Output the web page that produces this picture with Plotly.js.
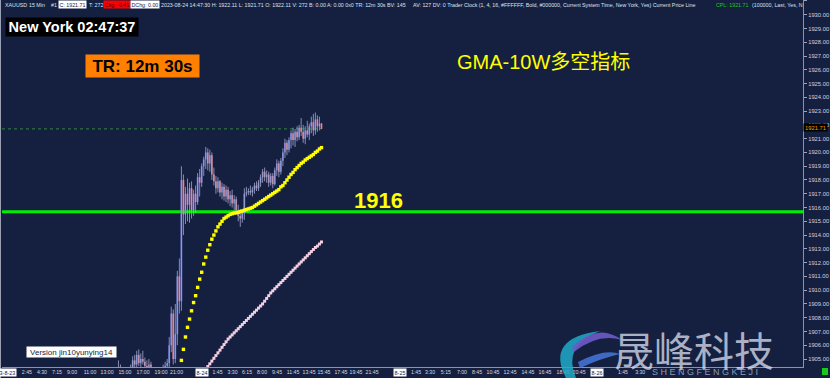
<!DOCTYPE html>
<html><head><meta charset="utf-8">
<script src="https://cdn.plot.ly/plotly-3.0.1.min.js"></script>
<style>html,body{margin:0;padding:0;background:#152041;overflow:hidden}#chart{width:830px;height:378px}</style>
</head><body><div id="chart"></div>
<script>
// ---- data ----
const slotStart = -42;
const opens = [
1903.2,1903.5,1904.2,1903.9,1903.7,1903.5,1903.9,1904.0,1904.3,1904.9,
1904.6,1905.3,1904.7,1905.0,1904.8,1904.5,1904.2,1904.6,1904.0,1903.8,
1903.9,1903.7,1903.6,1904.1,1904.3,1904.5,1904.7,1906.0,1908.3,1905.0,
1906.8,1911.0,1909.2,1918.0,1915.5,1917.0,1916.2,1917.4,1915.8,1917.0,
1916.4,1918.2,1917.8,1919.0,1919.5,1920.0,1919.2,1919.8,1918.4,1917.9,
1917.4,1917.9,1917.1,1917.5,1916.8,1917.3,1916.6,1916.9,1916.3,1916.6,
1915.8,1915.4,1915.2,1915.6,1917.0,1917.1,1917.2,1917.1,1917.3,1917.6,
1917.4,1917.8,1918.2,1918.6,1918.2,1918.4,1917.8,1918.3,1917.7,1918.7,
1919.2,1918.6,1919.4,1920.0,1920.7,1920.2,1920.9,1921.4,1920.9,1921.5,
1921.1,1921.8,1921.5,1921.0,1921.6,1921.3,1921.9,1922.2,1921.6,1922.4,
1921.9,1922.11];
const highs = [
1903.8,1904.9,1904.6,1904.2,1904.0,1904.1,1904.3,1904.6,1905.2,1905.3,
1905.6,1905.7,1905.4,1905.6,1905.1,1904.9,1905.0,1904.8,1904.3,1904.1,
1904.2,1904.0,1904.3,1904.6,1904.8,1905.0,1906.6,1908.8,1908.6,1909.0,
1911.4,1912.3,1919.0,1918.4,1917.5,1918.1,1917.8,1917.9,1917.3,1917.6,
1918.5,1918.8,1919.2,1919.7,1920.4,1920.3,1920.2,1920.0,1918.9,1918.3,
1918.2,1918.0,1917.8,1917.7,1917.6,1917.5,1917.2,1917.3,1916.9,1916.8,
1916.2,1915.9,1915.8,1917.4,1917.5,1917.4,1917.6,1917.5,1917.8,1917.9,
1918.0,1918.4,1918.8,1918.9,1918.7,1918.6,1918.5,1918.5,1918.9,1919.5,
1919.4,1919.6,1920.3,1921.0,1920.9,1921.1,1921.6,1921.8,1921.7,1921.9,
1922.0,1922.5,1922.0,1921.9,1922.3,1922.1,1922.6,1922.8,1922.9,1922.7,
1922.6,1922.11];
const lows = [
1902.9,1903.3,1903.6,1903.4,1903.2,1903.3,1903.5,1903.7,1904.0,1904.4,
1904.3,1904.5,1904.2,1904.6,1904.2,1903.9,1904.0,1903.8,1903.5,1903.4,
1903.5,1903.3,1903.4,1903.8,1904.0,1904.1,1904.2,1905.5,1904.6,1904.7,
1906.0,1908.3,1908.5,1914.0,1914.8,1915.0,1914.9,1915.2,1915.4,1915.6,
1916.2,1916.8,1917.5,1918.3,1918.8,1918.7,1918.6,1918.0,1917.6,1917.0,
1917.1,1916.8,1916.6,1916.5,1916.4,1916.3,1916.1,1916.0,1915.8,1915.5,
1915.0,1914.6,1914.9,1915.1,1916.8,1916.9,1916.9,1916.8,1917.0,1917.2,
1917.2,1917.5,1917.8,1917.9,1917.8,1917.5,1917.6,1917.4,1917.6,1918.3,
1918.2,1918.4,1919.0,1919.6,1919.8,1920.0,1920.3,1920.5,1920.4,1920.8,
1920.9,1921.2,1920.7,1920.6,1921.1,1920.9,1921.4,1921.2,1921.3,1921.5,
1921.6,1921.71];
const closes = [
1903.5,1904.2,1903.9,1903.7,1903.5,1903.9,1904.0,1904.3,1904.9,1904.6,
1905.3,1904.7,1905.0,1904.8,1904.5,1904.2,1904.6,1904.0,1903.8,1903.9,
1903.7,1903.6,1904.1,1904.3,1904.5,1904.7,1906.0,1908.3,1905.0,1906.8,
1911.0,1909.2,1918.0,1915.5,1917.0,1916.2,1917.4,1915.8,1917.0,1916.4,
1918.2,1917.8,1919.0,1919.5,1920.0,1919.2,1919.8,1918.4,1917.9,1917.4,
1917.9,1917.1,1917.5,1916.8,1917.3,1916.6,1916.9,1916.3,1916.6,1915.8,
1915.4,1915.2,1915.6,1917.0,1917.1,1917.2,1917.1,1917.3,1917.6,1917.4,
1917.8,1918.2,1918.6,1918.2,1918.4,1917.8,1918.3,1917.7,1918.7,1919.2,
1918.6,1919.4,1920.0,1920.7,1920.2,1920.9,1921.4,1920.9,1921.5,1921.1,
1921.8,1921.5,1921.0,1921.6,1921.3,1921.9,1922.2,1921.6,1922.4,1921.9,
1922.11,1921.71];

const gmaStart = -10;
const gmaYellow = [
1904.9,1905.7,1906.6,1907.3,1907.9,1908.5,1909.1,1909.6,1910.2,1910.8,
1911.3,1911.9,1912.4,1912.9,1913.3,1913.7,1914.0,1914.3,1914.6,1914.8,
1915.0,1915.2,1915.3,1915.4,1915.5,1915.55,1915.6,1915.62,1915.65,1915.7,
1915.75,1915.8,1915.85,1915.9,1915.95,1916.0,1916.1,1916.2,1916.3,1916.4,
1916.5,1916.6,1916.7,1916.8,1916.9,1917.0,1917.1,1917.2,1917.3,1917.5,
1917.6,1917.8,1918.0,1918.2,1918.4,1918.55,1918.75,1918.9,1919.05,1919.2,
1919.3,1919.45,1919.55,1919.65,1919.75,1919.85,1920.0,1920.1,1920.25,1920.35];

const maStart = 3;
const maPink = [
1904.45,1904.65,1904.85,1905.05,1905.25,1905.45,1905.65,1905.85,1906.05,1906.25,
1906.45,1906.6,1906.75,1906.9,1907.05,1907.2,1907.35,1907.5,1907.65,1907.8,
1907.95,1908.1,1908.25,1908.4,1908.55,1908.7,1908.85,1909.0,1909.2,1909.4,
1909.6,1909.8,1909.95,1910.1,1910.25,1910.4,1910.55,1910.7,1910.85,1911.0,
1911.15,1911.3,1911.45,1911.6,1911.75,1911.9,1912.05,1912.2,1912.35,1912.5,
1912.65,1912.8,1912.95,1913.1,1913.2,1913.35,1913.5];

const levelValue = 1915.7;
const levelLabel = '1916';

const tickLabels = ['2:45','4:30','7:15','9:00','11:00','13:00','15:00','17:00','19:00','21:00',
 '1:45','3:30','6:15','8:00','9:45','11:45','13:45','15:45','17:45','19:45','21:45',
 '1:45','3:30','5:15','7:00','8:45','10:45','12:45','14:45','16:45','18:45','20:45',
 '1:45','3:30'];
const tickSlots = [-86.1,-78.7,-71.3,-63.9,-55.0,-46.6,-37.8,-28.9,-20.0,-12.4,
 7.8,15.2,22.3,29.7,37.1,45.0,52.9,60.2,68.6,76.0,83.9,
 105.6,112.5,120.3,128.2,135.6,143.5,151.9,160.7,169.1,178.0,185.9,
 207.5,216.0];
const dateLabels = ['3-8-23','8-24','8-25','8-26'];
const dateSlots = [-95.5, 0, 97.7, 194.5];

// ---- build ----
const SANS = '"Liberation Sans",Arial,sans-serif';
const slots = closes.map((_, i) => slotStart + i);
const wx = [], wy = [];
slots.forEach((s, i) => { wx.push(s, s, null); wy.push(lows[i], highs[i], null); });
const bodyBase = closes.map((c, i) => Math.min(c, opens[i]));
const bodyH = closes.map((c, i) => Math.max(Math.abs(c - opens[i]), 0.06));
const bodyCol = closes.map((c, i) => c >= opens[i] ? '#6f7bdc' : '#e27880');
const gx = gmaYellow.map((_, i) => gmaStart + i);
const pxs = maPink.map((_, i) => maStart + i);

const xMin = -98.37, xMax = 296.2;
const lastSlot = slots[slots.length - 1];
const lastClose = closes[closes.length - 1];

const traces = [
 {type:'scatter', mode:'lines', x:wx, y:wy, line:{color:'rgba(160,168,205,0.8)', width:1}, hoverinfo:'skip', showlegend:false},
 {type:'bar', x:slots, y:bodyH, base:bodyBase, width:0.85, marker:{color:bodyCol, line:{width:0}}, hoverinfo:'skip', showlegend:false},
 {type:'scatter', mode:'lines+markers', x:pxs, y:maPink, line:{color:'#f3c9da', width:1}, marker:{symbol:'square', size:3, color:'#f6d0e0'}, hoverinfo:'skip', showlegend:false},
 {type:'scatter', mode:'markers', x:gx, y:gmaYellow, marker:{symbol:'square', size:3.4, color:'#ffff00'}, hoverinfo:'skip', showlegend:false}
];

const PX = p => (p - 2) / 801, PY = p => (367 - p) / 367;
const TB = 5.3;
function A(text, x, y, o) {
  return Object.assign({xref:'paper', yref:'paper', x:PX(x), y:PY(y), xanchor:'left', yanchor:'middle',
    text:text, showarrow:false, font:{family:SANS, size:TB, color:'#dde2ee'}}, o || {});
}
const annotations = [
 A('XAUUSD', 3, 5), A('15 Min', 27, 5), A('#1', 49, 5),
 A('C: 1921.71', 58, 5, {bgcolor:'#ffffff', borderpad:0.5, font:{family:SANS, size:TB, color:'#13204a'}}),
 A('T: 272', 87, 5),
 A('Chg: -0.41', 103, 5, {bgcolor:'#ff0000', borderpad:0.5, font:{family:SANS, size:TB, color:'#3a0000'}}),
 A('DChg: 0.00', 130, 5, {bgcolor:'#ffffff', borderpad:0.5, font:{family:SANS, size:TB, color:'#13204a'}}),
 A('2023-08-24 14:47:30 H: 1922.11 L: 1921.71 O: 1922.11 V: 272 B: 0.00 A: 0.00 0x0 TR: 12m 30s BV: 145', 159, 5),
 A('AV: 127 DV: 0 Trader Clock (1, 4, 16, #FFFFFF, Bold, #000000, Current System Time, New York, Yes) Current Price Line', 411, 5),
 A('CPL: 1921.71', 714, 5, {font:{family:SANS, size:TB, color:'#19c819'}}),
 A('(100000, Last, Yes, N', 750, 5),
 A('<b>New York 02:47:37</b>', 72, 27, {xanchor:'center', bgcolor:'#000000', width:132, height:18, borderpad:0,
   font:{family:SANS, size:14.5, color:'#ffffff'}}),
 A('<b>TR: 12m 30s</b>', 142.5, 66, {xanchor:'center', bgcolor:'#ff8000', width:113, height:22, borderpad:0,
   font:{family:SANS, size:17, color:'#000000'}}),
 A('GMA-10W多空指标', 543, 62, {xanchor:'center', font:{family:'"Liberation Sans", "Noto Sans CJK SC", sans-serif', size:20, color:'#ffff00'}}),
 A('<b>' + levelLabel + '</b>', 378, 200, {xanchor:'center', font:{family:SANS, size:22, color:'#ffff00'}}),
 A('Version jin10yunying14', 71.5, 352, {xanchor:'center', bgcolor:'#ffffff', width:89, height:10, borderpad:0,
   font:{family:SANS, size:8, color:'#1a2440'}}),
 A(lastClose.toFixed(2), 815.5, 127.5, {xanchor:'center', bgcolor:'#000000', width:23, height:7, borderpad:0,
   font:{family:SANS, size:5.8, color:'#ff9c00'}}),
 A('晟峰科技', 694, 349, {xanchor:'center', font:{family:'"Noto Sans CJK SC", sans-serif', size:40, color:'rgba(214,218,234,0.78)'}}),
 A('S H E N G F E N G K E J I', 705, 372, {xanchor:'center', font:{family:SANS, size:9, color:'rgba(190,196,218,0.75)'}})
];
dateLabels.forEach((t, i) => annotations.push({xref:'x', yref:'paper', x:dateSlots[i], y:PY(372.5), xanchor:'center', yanchor:'middle',
  text:t, showarrow:false, bgcolor:'#ffffff', borderpad:0.6, font:{family:SANS, size:5.4, color:'#13204a'}}));

const shapes = [
 {type:'line', xref:'paper', yref:'y', x0:0, x1:1, y0:levelValue, y1:levelValue, line:{color:'#00ee00', width:3}, layer:'below'},
 {type:'line', xref:'x', yref:'y', x0:xMin, x1:lastSlot, y0:lastClose, y1:lastClose, line:{color:'#2f8a36', width:1, dash:'dot'}, layer:'below'},
 {type:'line', xref:'paper', yref:'paper', x0:PX(0.5), x1:PX(0.5), y0:PY(0), y1:PY(378), line:{color:'#9aa0b4', width:1}},
 {type:'rect', xref:'paper', yref:'paper', x0:PX(822), x1:PX(828), y0:PY(375), y1:PY(368), fillcolor:'#19c819', line:{width:0}},
 {type:'path', xref:'paper', yref:'paper', fillcolor:'rgba(30,170,200,0.85)', line:{width:0},
  path:`M ${PX(600)} ${PY(331)} Q ${PX(545)} ${PY(338)} ${PX(566)} ${PY(378)} L ${PX(576)} ${PY(378)} Q ${PX(562)} ${PY(345)} ${PX(600)} ${PY(331)} Z`},
 {type:'path', xref:'paper', yref:'paper', fillcolor:'rgba(110,90,200,0.9)', line:{width:0},
  path:`M ${PX(572)} ${PY(347)} Q ${PX(598)} ${PY(322)} ${PX(622)} ${PY(340)} Q ${PX(598)} ${PY(333)} ${PX(574)} ${PY(352)} Z`},
 {type:'path', xref:'paper', yref:'paper', fillcolor:'rgba(70,120,220,0.85)', line:{width:0},
  path:`M ${PX(578)} ${PY(362)} Q ${PX(605)} ${PY(348)} ${PX(620)} ${PY(354)} Q ${PX(602)} ${PY(358)} ${PX(580)} ${PY(368)} Z`}
];

const layout = {
 width:830, height:378, margin:{l:2, r:27, t:0, b:11},
 paper_bgcolor:'#152041', plot_bgcolor:'#152041',
 showlegend:false, barmode:'overlay', hovermode:false,
 xaxis:{range:[xMin, xMax], showgrid:false, zeroline:false, showline:true, linecolor:'#8a92ad', linewidth:1,
   tickmode:'array', tickvals:tickSlots, ticktext:tickLabels, ticks:'', tickangle:0, automargin:false,
   tickfont:{family:SANS, size:5.2, color:'#d6dae6'}, fixedrange:true},
 yaxis:{range:[1904.42, 1931.07], side:'right', showgrid:false, zeroline:false, showline:true, linecolor:'#8a92ad', linewidth:1,
   tick0:1900, dtick:1, tickformat:'.2f', ticks:'outside', ticklen:3, tickcolor:'#9aa2bc', automargin:false,
   tickfont:{family:SANS, size:5.8, color:'#cdd2e2'}, fixedrange:true},
 annotations:annotations, shapes:shapes
};
Plotly.newPlot('chart', traces, layout, {staticPlot:true, displayModeBar:false});
</script></body></html>
